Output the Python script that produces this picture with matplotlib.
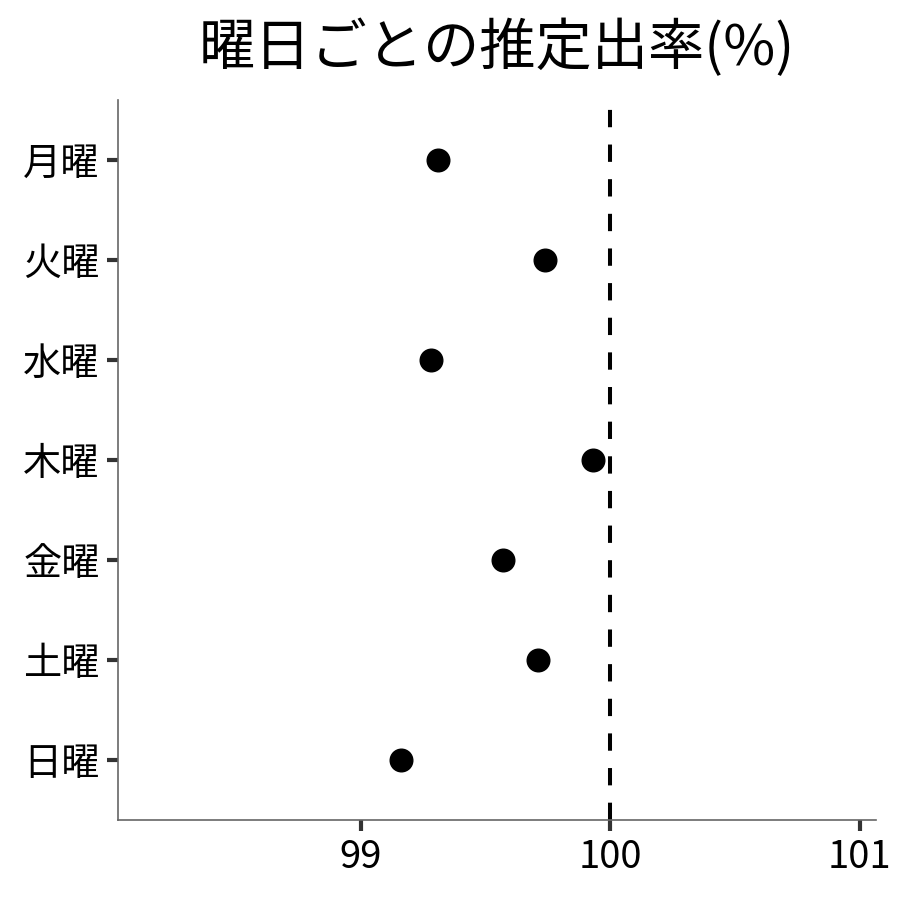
import matplotlib
matplotlib.use('Agg')
import matplotlib.pyplot as plt

plt.rcParams['font.family'] = ['Noto Sans CJK JP', 'DejaVu Sans']

# data (top to bottom)
days = ['月曜', '火曜', '水曜', '木曜', '金曜', '土曜', '日曜']
rates = [99.31, 99.74, 99.28, 99.93, 99.57, 99.71, 99.16]
ref_value = 100
xticks = [99, 100, 101]

fig = plt.figure(figsize=(9, 9), dpi=100)
ax = fig.add_axes([0.131, 0.089, 0.842, 0.8])

ypos = list(range(len(days), 0, -1))
ylo, yhi = 0.4, 7.6
# reference line drawn bottom-up so the dash pattern starts at the x axis
ax.plot([ref_value, ref_value], [ylo, yhi], color='black', linestyle=(0, (4.3, 4.3)),
        linewidth=2.9, solid_capstyle='butt', dash_capstyle='butt', zorder=1, clip_on=False)
ax.scatter(rates, ypos, s=265, color='black', zorder=3)

ax.set_xlim(98.026, 101.064)
ax.set_ylim(ylo, yhi)
ax.set_yticks(ypos)
ax.set_yticklabels(days)
ax.set_xticks(xticks)
ax.set_xticklabels([str(t) for t in xticks])

for s in ['top', 'right']:
    ax.spines[s].set_visible(False)
for s in ['left', 'bottom']:
    ax.spines[s].set_color('#666666')
    ax.spines[s].set_linewidth(1.2)
ax.tick_params(axis='both', colors='#333333', width=3, length=8, labelsize=27.5, labelcolor='black', pad=5)

# title centred over the panel, like ggplot
ax.set_title('曜日ごとの推定出率(%)', fontsize=40.5, pad=25)

fig.savefig('out.png', dpi=100, facecolor='white')
